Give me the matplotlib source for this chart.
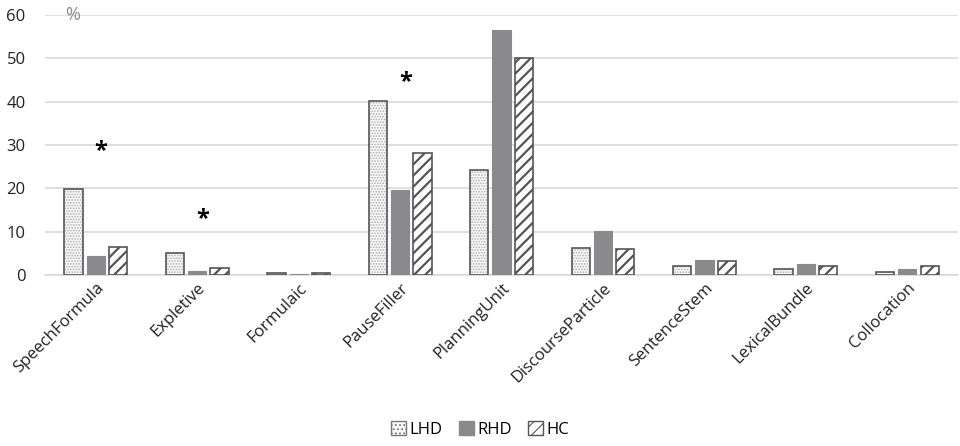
import numpy as np
import matplotlib
matplotlib.use("Agg")
import matplotlib.pyplot as plt

plt.rcParams['font.family'] = ['Open Sans', 'DejaVu Sans']

# data (percent)
categories = ["SpeechFormula", "Expletive", "Formulaic", "PauseFiller", "PlanningUnit",
              "DiscourseParticle", "SentenceStem", "LexicalBundle", "Collocation"]
lhd = [19.8, 5.1, 0.4, 40.2, 24.2, 6.2, 2.1, 1.4, 0.7]
rhd = [4.4, 1.0, 0.2, 19.6, 56.5, 10.1, 3.5, 2.6, 1.4]
hc = [6.4, 1.6, 0.5, 28.2, 50.1, 6.0, 3.2, 2.1, 2.2]

# significance markers (category index, height)
stars = [(0, 28.5), (1, 13.0), (3, 44.5)]

x = np.arange(len(categories))
w = 0.18
step = 0.22

fig = plt.figure(figsize=(9.6, 4.46), dpi=100)
ax = fig.add_axes([0.047, 0.383, 0.951, 0.584])

# LHD: fine light dots, then dark outline on top
plt.rcParams['hatch.linewidth'] = 0.8
ax.bar(x - step, lhd, w, color="#f7f7f7", edgecolor="#b0b0b0", hatch="......",
       linewidth=0, zorder=3)
ax.bar(x - step, lhd, w, color="none", edgecolor="#555555", linewidth=1.2,
       label="LHD", zorder=3.1)
ax.bar(x, rhd, w, color="#8a8a8c", edgecolor="#8a8a8c", linewidth=0.8,
       label="RHD", zorder=3)
plt.rcParams['hatch.linewidth'] = 1.6
ax.bar(x + step, hc, w, color="white", edgecolor="#555555", hatch="///",
       linewidth=1.2, label="HC", zorder=3)

for i, h in stars:
    ax.text(x[i] + 0.05, h, "*", ha="center", va="center", fontsize=17,
            fontweight="bold", color="black", zorder=4)

ax.set_xlim(-0.5, len(categories) - 0.5)
ax.set_ylim(0, 60)
ax.set_yticks(range(0, 61, 10))
ax.yaxis.grid(True, color="#d9d9d9", linewidth=1.2, zorder=0)
ax.set_axisbelow(True)
for s in ["top", "right", "left"]:
    ax.spines[s].set_visible(False)
ax.spines["bottom"].set_color("#d9d9d9")
ax.spines["bottom"].set_linewidth(1.2)
ax.tick_params(axis="both", length=0, labelsize=12, colors="#222222")
ax.tick_params(axis="y", pad=14)
ax.set_xticks(x)
ax.set_xticklabels(categories, rotation=45, ha="right", rotation_mode="anchor")

ax.text(0.022, 60, "%", ha="left", va="center", fontsize=13, color="#888888",
        transform=ax.get_yaxis_transform())

# legend: build handles so the LHD swatch shows dots too
from matplotlib.patches import Patch
plt.rcParams['hatch.linewidth'] = 0.8
handles = [Patch(facecolor="#f7f7f7", edgecolor="#777777", hatch="....", linewidth=1.0),
           Patch(facecolor="#8a8a8c", edgecolor="#8a8a8c"),
           Patch(facecolor="white", edgecolor="#555555", hatch="///", linewidth=1.0)]
fig.legend(handles, ["LHD", "RHD", "HC"], loc="lower center", bbox_to_anchor=(0.5, -0.015),
           ncol=3, frameon=False, fontsize=12, handlelength=0.9, handleheight=0.9,
           handletextpad=0.2, columnspacing=1.0)

fig.savefig("out.png", dpi=100)
